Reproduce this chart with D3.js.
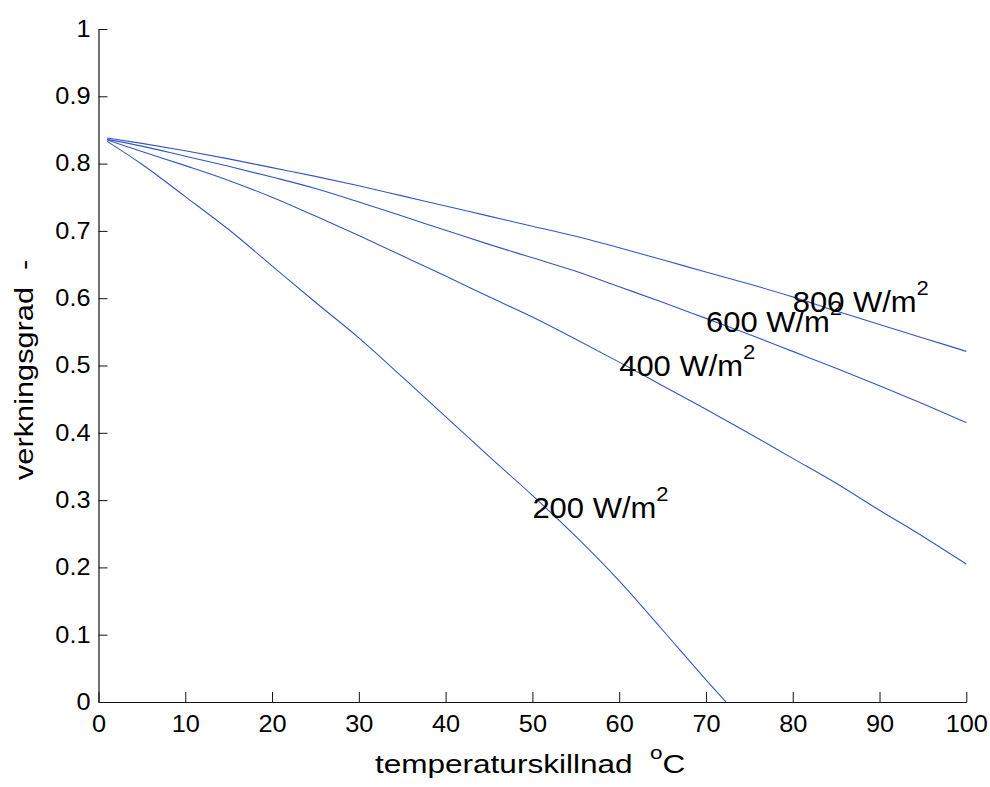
<!DOCTYPE html>
<html>
<head>
<meta charset="utf-8">
<script src="https://cdn.jsdelivr.net/npm/d3@7"></script>
<style>
  html, body { margin: 0; padding: 0; background: #fff; }
  svg { display: block; }
  text { font-family: "Liberation Sans", Arial, sans-serif; fill: #000; white-space: pre; }
</style>
</head>
<body>
<svg id="chart" width="990" height="787"></svg>
<script>
// ---- data ----
const temps = [1, 5, 10, 15, 20, 25, 30, 35, 40, 45, 50, 55, 60, 65, 70, 75, 80, 85, 90, 95, 100];
const eff800 = [0.838, 0.830, 0.819, 0.807, 0.794, 0.781, 0.767, 0.752, 0.737, 0.722, 0.707, 0.692, 0.675, 0.657, 0.639, 0.621, 0.602, 0.581, 0.561, 0.541, 0.521];
const eff600 = [0.836, 0.826, 0.811, 0.796, 0.780, 0.763, 0.743, 0.722, 0.701, 0.680, 0.660, 0.640, 0.617, 0.594, 0.570, 0.546, 0.521, 0.496, 0.470, 0.443, 0.415];
const eff400 = [0.835, 0.818, 0.797, 0.775, 0.750, 0.722, 0.693, 0.663, 0.633, 0.602, 0.572, 0.539, 0.505, 0.470, 0.435, 0.399, 0.362, 0.325, 0.285, 0.246, 0.205];
const temps200 = [1, 5, 10, 15, 20, 25, 30, 35, 40, 45, 50, 55, 60, 65, 70, 72.3];
const eff200 = [0.833, 0.799, 0.751, 0.702, 0.648, 0.594, 0.541, 0.483, 0.424, 0.365, 0.307, 0.246, 0.180, 0.107, 0.033, 0.0];

const labelNames = ["800", "600", "400", "200"];
const labelX = [80, 70, 60, 50];
const labelY = [0.5795, 0.5498, 0.484, 0.273];

const xTicks = [0, 10, 20, 30, 40, 50, 60, 70, 80, 90, 100];
const yTicks = [0, 0.1, 0.2, 0.3, 0.4, 0.5, 0.6, 0.7, 0.8, 0.9, 1];

const xTitle = "temperaturskillnad  ";
const xTitleSup = "o";
const xTitleEnd = "C";
const yTitle = "verkningsgrad  -";

// ---- layout ----
const svg = d3.select("#chart");
const x = d3.scaleLinear().domain([0, 100]).range([98.5, 966.3]);
const y = d3.scaleLinear().domain([0, 1]).range([702, 29]);

const lineColor = "#3556c0";
const axisColor = "#111";

// axes
const tickFs = 23, tickSx = 1.1;
const xAxis = d3.axisBottom(x).tickValues(xTicks).tickFormat(d3.format("d"))
  .tickSizeInner(-10).tickSizeOuter(0).tickPadding(13.3);
const gx = svg.append("g").attr("transform", `translate(0,${y(0)})`).call(xAxis);
gx.select(".domain").attr("stroke", axisColor).attr("stroke-width", 1.2);
gx.selectAll(".tick line").attr("stroke", axisColor).attr("stroke-width", 1);
gx.selectAll(".tick text").attr("font-size", tickFs).attr("fill", "#000")
  .attr("font-family", '"Liberation Sans", Arial, sans-serif')
  .attr("transform", `scale(${tickSx},1)`);

const yAxis = d3.axisLeft(y).tickValues(yTicks).tickFormat(d => d3.format("")(+d.toFixed(1)))
  .tickSizeInner(-9).tickSizeOuter(0).tickPadding(8 / tickSx);
const gy = svg.append("g").attr("transform", `translate(${x(0)},0)`).call(yAxis);
gy.select(".domain").attr("stroke", axisColor).attr("stroke-width", 1.2);
gy.selectAll(".tick line").attr("stroke", axisColor).attr("stroke-width", 1);
gy.selectAll(".tick text").attr("font-size", tickFs).attr("fill", "#000")
  .attr("font-family", '"Liberation Sans", Arial, sans-serif')
  .attr("transform", `scale(${tickSx},1)`);

// lines
const line = d3.line().curve(d3.curveMonotoneX).x(d => x(d[0])).y(d => y(d[1]));
const series = [
  [temps, eff800],
  [temps, eff600],
  [temps, eff400],
  [temps200, eff200]
];
svg.append("g").selectAll("path").data(series).join("path")
  .attr("d", s => line(s[0].map((t, i) => [t, s[1][i]])))
  .attr("fill", "none")
  .attr("stroke", lineColor)
  .attr("stroke-width", 1.1);

// curve labels
const labFs = 29.5, labSx = 1.05;
labelNames.forEach((name, i) => {
  const t = svg.append("text")
    .attr("transform", `translate(${x(labelX[i])},${y(labelY[i])}) scale(${labSx},1)`)
    .attr("font-size", labFs);
  t.append("tspan").text(name + " W/m");
  t.append("tspan").attr("font-size", 21).attr("dy", -17).text("2");
});

// axis titles
const titleFs = 26.5;
const xt = svg.append("text")
  .attr("transform", `translate(375,772.5) scale(1.19,1)`)
  .attr("font-size", titleFs);
xt.append("tspan").text(xTitle);
xt.append("tspan").attr("font-size", 19).attr("dy", -14).text(xTitleSup);
xt.append("tspan").attr("dy", 14).text(xTitleEnd);

svg.append("text")
  .attr("transform", `translate(33,480) rotate(-90) scale(1.16,1)`)
  .attr("font-size", titleFs)
  .text(yTitle);
</script>
</body>
</html>
